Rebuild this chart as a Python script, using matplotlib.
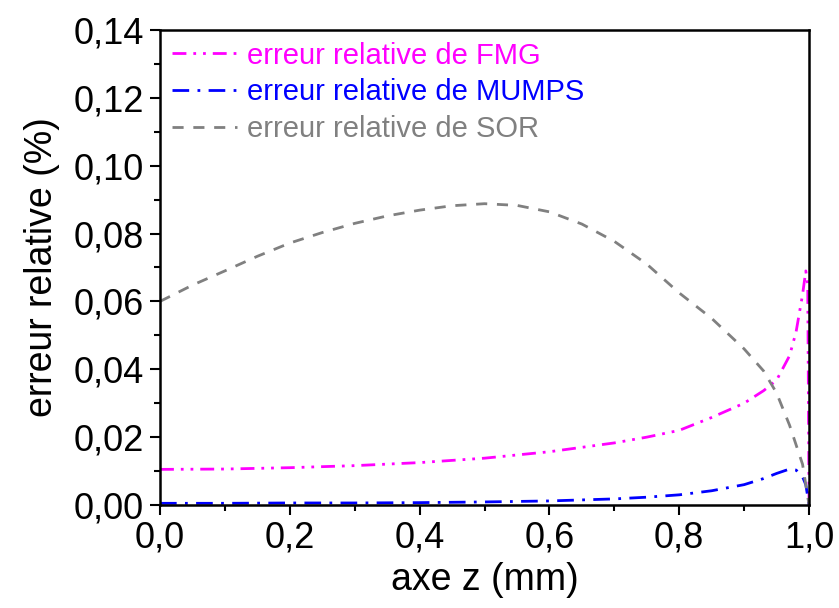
# Relative error along z axis for FMG, MUMPS and SOR
import matplotlib
matplotlib.use("Agg")
import matplotlib.pyplot as plt
from matplotlib.ticker import MultipleLocator, FuncFormatter

plt.rcParams["font.family"] = ["Liberation Sans", "DejaVu Sans"]

# values (z in mm, error in %)
z_sor = [0.0, 0.05, 0.1, 0.15, 0.2, 0.25, 0.3, 0.35, 0.4, 0.45, 0.5, 0.55, 0.6,
         0.65, 0.7, 0.75, 0.8, 0.85, 0.9, 0.93, 0.95, 0.97, 0.99, 1.0]
err_sor = [0.0600, 0.0648, 0.0690, 0.0733, 0.0772, 0.0803, 0.0830, 0.0852, 0.0869,
           0.0882, 0.0888, 0.0883, 0.0864, 0.0828, 0.0777, 0.0710, 0.0625, 0.0550,
           0.0460, 0.0395, 0.0330, 0.0235, 0.0120, 0.0]

z_fmg = [0.0, 0.1, 0.2, 0.3, 0.4, 0.5, 0.6, 0.7, 0.75, 0.8, 0.85, 0.9, 0.93,
         0.95, 0.97, 0.98, 0.99, 0.995, 0.998, 1.0]
err_fmg = [0.0105, 0.0106, 0.0110, 0.0116, 0.0125, 0.0138, 0.0157, 0.0183, 0.0200,
           0.0220, 0.0258, 0.0300, 0.0337, 0.0368, 0.0440, 0.0510, 0.0620, 0.0690,
           0.0650, 0.0]

z_mumps = [0.0, 0.1, 0.2, 0.3, 0.4, 0.5, 0.6, 0.7, 0.75, 0.8, 0.85, 0.9, 0.93,
           0.95, 0.97, 0.98, 0.99, 0.995, 1.0]
err_mumps = [0.0005, 0.0005, 0.0006, 0.0006, 0.0007, 0.0009, 0.0012, 0.0018, 0.0023,
             0.0030, 0.0042, 0.0060, 0.0078, 0.0093, 0.0106, 0.0103, 0.0083, 0.0060, 0.0]

fig = plt.figure(figsize=(8.39, 6.08), dpi=100)
ax = fig.add_axes([0.1907, 0.1694, 0.7736, 0.7813])

ax.plot(z_fmg, err_fmg, color="#FF00FF", lw=2, dashes=(5, 2.5, 1, 2.5, 1, 2.5),
        label="erreur relative de FMG")
ax.plot(z_mumps, err_mumps, color="#0000FF", lw=2, dashes=(6, 3, 1, 3),
        label="erreur relative de MUMPS")
ax.plot(z_sor, err_sor, color="#808080", lw=2, dashes=(4, 3.5),
        label="erreur relative de SOR")

ax.set_xlim(0, 1.0)
ax.set_ylim(0, 0.14)
ax.xaxis.set_major_locator(MultipleLocator(0.2))
ax.xaxis.set_minor_locator(MultipleLocator(0.1))
ax.yaxis.set_major_locator(MultipleLocator(0.02))
ax.yaxis.set_minor_locator(MultipleLocator(0.01))
ax.xaxis.set_major_formatter(FuncFormatter(lambda v, p: f"{v:.1f}".replace(".", ",")))
ax.yaxis.set_major_formatter(FuncFormatter(lambda v, p: f"{v:.2f}".replace(".", ",")))

ax.tick_params(which="both", direction="out", width=1.5, labelsize=26,
               top=False, right=False)
ax.tick_params(which="major", length=7.5, pad=4)
ax.tick_params(which="minor", length=4)
for s in ax.spines.values():
    s.set_linewidth(1.8)

ax.set_xlabel("axe z (mm)", fontsize=27, labelpad=4)
ax.set_ylabel("erreur relative (%)", fontsize=27, labelpad=10)

leg = ax.legend(loc="upper left", frameon=False, fontsize=21, handlelength=2.25,
                handletextpad=0.35, labelspacing=0.3, borderaxespad=0.1,
                borderpad=0.3)
for txt, line in zip(leg.get_texts(), leg.get_lines()):
    txt.set_color(line.get_color())

fig.savefig("out.png", dpi=100)
